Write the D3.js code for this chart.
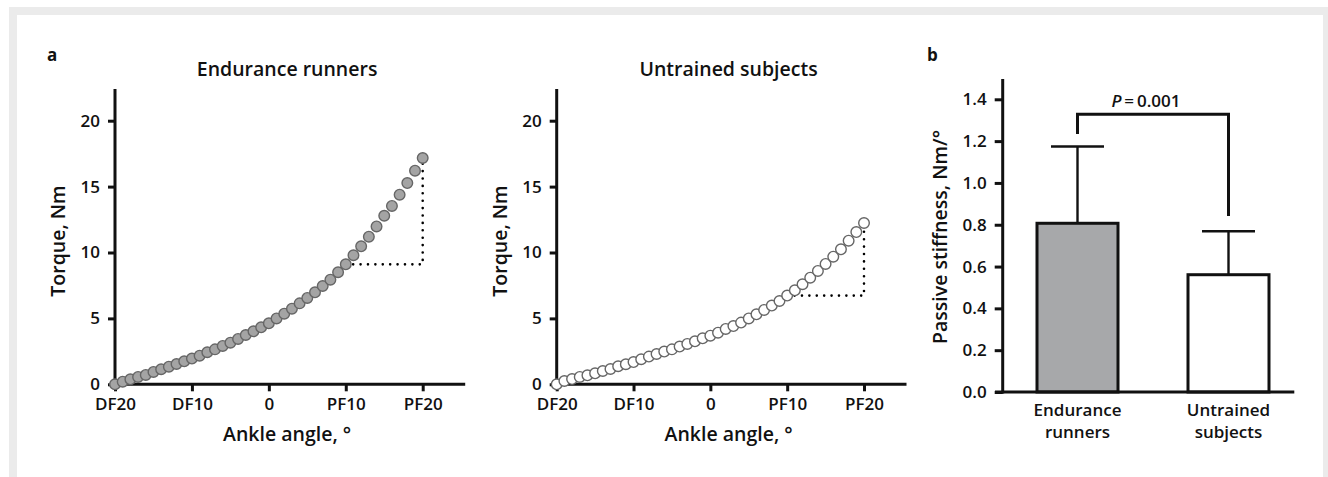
<!DOCTYPE html>
<html>
<head>
<meta charset="utf-8">
<script src="https://cdn.jsdelivr.net/npm/d3@7"></script>
<style>
  html, body { margin: 0; padding: 0; background: #fff; }
  svg { display: block; }
  text { font-family: 'Open Sans', 'Noto Sans', sans-serif; font-weight: 600; fill: #111; }
</style>
</head>
<body>
<script>
const width = 1328
const height = 477

// panel a: ankle angle (deg, negative = dorsiflexion) vs passive torque (Nm)
const angles = [-20, -19, -18, -17, -16, -15, -14, -13, -12, -11, -10, -9, -8, -7, -6, -5, -4, -3, -2, -1,
  0, 1, 2, 3, 4, 5, 6, 7, 8, 9, 10, 11, 12, 13, 14, 15, 16, 17, 18, 19, 20]
const runnersTorque = [0, 0.2, 0.38, 0.56, 0.71, 0.94, 1.14, 1.34, 1.54, 1.74, 1.95, 2.17, 2.43, 2.65, 2.91,
  3.16, 3.44, 3.74, 4.02, 4.32, 4.63, 5.0, 5.36, 5.74, 6.14, 6.55, 6.98, 7.46, 7.94, 8.5, 9.1, 9.79, 10.47,
  11.2, 11.98, 12.79, 13.53, 14.39, 15.27, 16.21, 17.17]
const untrainedTorque = [0, 0.25, 0.4, 0.56, 0.68, 0.83, 1.01, 1.16, 1.37, 1.52, 1.69, 1.9, 2.1, 2.3, 2.48,
  2.65, 2.86, 3.06, 3.26, 3.49, 3.69, 3.92, 4.2, 4.42, 4.68, 5.0, 5.31, 5.64, 5.97, 6.32, 6.73, 7.13, 7.59,
  8.09, 8.6, 9.13, 9.68, 10.24, 10.9, 11.55, 12.24]
const angleTicks = [-20, -10, 0, 10, 20]
const angleTickLabels = ['DF20', 'DF10', '0', 'PF10', 'PF20']
const torqueTicks = [0, 5, 10, 15, 20]
const slopeFrom = 10
const slopeTo = 20

// panel b: passive stiffness
const groups = ['Endurance runners', 'Untrained subjects']
const stiffnessMean = [0.807, 0.561]
const stiffnessSD = [0.367, 0.208]
const stiffnessTicks = [0, 0.2, 0.4, 0.6, 0.8, 1.0, 1.2, 1.4]
const bracketTop = 1.329
const bracketLegs = [1.234, 0.842]
const pLabel = ['P', '\u2009=\u20090.001']

const svg = d3.select('body').append('svg')
  .attr('width', width)
  .attr('height', height)

// page frame
svg.append('rect').attr('x', 9).attr('y', 7).attr('width', width).attr('height', height).attr('fill', '#ebebeb')
svg.append('rect').attr('x', 17).attr('y', 15).attr('width', 1306).attr('height', height).attr('fill', '#fff')

const yTorque = d3.scaleLinear().domain([0, 20]).range([384.3, 120.7])
const axisColor = '#111'
const tickFont = '17px'

function curvePanel(x0, x1, torque, fill, title, labelX) {
  const x = d3.scaleLinear().domain([-20, 20]).range([x0, x1])
  const g = svg.append('g')
  const axisEnd = x1 + 42.5
  const mid = (x0 + axisEnd) / 2 - 3

  // y axis
  const yAxis = d3.axisLeft(yTorque).tickValues(torqueTicks).tickSize(7).tickPadding(8).tickSizeOuter(0)
  const ya = g.append('g').attr('transform', `translate(${x0},0)`).call(yAxis)
  ya.select('.domain').remove()
  ya.append('line').attr('x1', 0).attr('x2', 0).attr('y1', 89).attr('y2', 385.8)
    .attr('stroke', axisColor).attr('stroke-width', 3)

  // x axis
  const xAxis = d3.axisBottom(x).tickValues(angleTicks)
    .tickFormat((d, i) => angleTickLabels[i]).tickSize(7).tickPadding(7).tickSizeOuter(0)
  const xa = g.append('g').attr('transform', `translate(0,${yTorque(0)})`).call(xAxis)
  xa.select('.domain').remove()
  xa.append('line').attr('x1', x0 - 1.5).attr('x2', axisEnd).attr('y1', 0).attr('y2', 0)
    .attr('stroke', axisColor).attr('stroke-width', 3)

  g.selectAll('.tick line').attr('stroke', axisColor).attr('stroke-width', 3)
  g.selectAll('.tick text').style('font-size', tickFont).style('font-family', "'Open Sans', sans-serif")
    .attr('fill', '#111')

  // slope triangle
  const iFrom = angles.indexOf(slopeFrom)
  const iTo = angles.indexOf(slopeTo)
  g.append('path')
    .attr('d', `M${x(slopeFrom)},${yTorque(torque[iFrom])}H${x(slopeTo)}V${yTorque(torque[iTo])}`)
    .attr('fill', 'none').attr('stroke', '#000').attr('stroke-width', 2.6)
    .attr('stroke-linecap', 'round').attr('stroke-dasharray', '0 7.4')

  g.selectAll('circle.pt').data(angles).enter().append('circle')
    .attr('class', 'pt')
    .attr('cx', d => x(d))
    .attr('cy', (d, i) => yTorque(torque[i]))
    .attr('r', 5.3)
    .attr('fill', fill)
    .attr('stroke', '#666')
    .attr('stroke-width', 1.4)

  g.append('text').attr('x', mid).attr('y', 76).attr('text-anchor', 'middle')
    .style('font-size', '19.5px').text(title)
  g.append('text').attr('x', mid).attr('y', 441).attr('text-anchor', 'middle')
    .style('font-size', '19.5px').text('Ankle angle, °')
  g.append('text').attr('transform', `translate(${labelX},241) rotate(-90)`).attr('dy', '0.35em')
    .attr('text-anchor', 'middle').style('font-size', '19.5px').text('Torque, Nm')
}

curvePanel(115, 422.7, runnersTorque, '#a4a4a4', 'Endurance runners', 58)
curvePanel(556.7, 864, untrainedTorque, '#fff', 'Untrained subjects', 500)

svg.append('text').attr('x', 47).attr('y', 61).style('font-size', '17px').style('font-weight', 700).text('a')
svg.append('text').attr('x', 927).attr('y', 61).style('font-size', '17px').style('font-weight', 700).text('b')

// panel b
const yStiff = d3.scaleLinear().domain([0, 1.4]).range([392, 99.3])
const xGroup = d3.scaleBand().domain(groups).range([1002, 1304]).paddingInner(0.4636).paddingOuter(0.2318)
const gb = svg.append('g')

const yAxisB = d3.axisLeft(yStiff).tickValues(stiffnessTicks).tickFormat(d3.format('.1f'))
  .tickSize(8).tickPadding(8).tickSizeOuter(0)
const yb = gb.append('g').attr('transform', 'translate(1002.7,0)').call(yAxisB)
yb.select('.domain').remove()
yb.append('line').attr('x1', 0).attr('x2', 0).attr('y1', 79).attr('y2', 393.5)
  .attr('stroke', axisColor).attr('stroke-width', 3)
yb.selectAll('.tick line').attr('stroke', axisColor).attr('stroke-width', 3)
yb.selectAll('.tick text').style('font-size', tickFont).style('font-family', "'Open Sans', sans-serif")
  .attr('fill', '#111')

const barG = gb.selectAll('g.bar').data(groups).enter().append('g').attr('class', 'bar')
// error bars first so bar outline sits on top
barG.append('line')
  .attr('x1', d => xGroup(d) + xGroup.bandwidth() / 2)
  .attr('x2', d => xGroup(d) + xGroup.bandwidth() / 2)
  .attr('y1', (d, i) => yStiff(stiffnessMean[i]))
  .attr('y2', (d, i) => yStiff(stiffnessMean[i] + stiffnessSD[i]))
  .attr('stroke', axisColor).attr('stroke-width', 2.4)
barG.append('line')
  .attr('x1', d => xGroup(d) + xGroup.bandwidth() / 2 - 26.5)
  .attr('x2', d => xGroup(d) + xGroup.bandwidth() / 2 + 26.5)
  .attr('y1', (d, i) => yStiff(stiffnessMean[i] + stiffnessSD[i]))
  .attr('y2', (d, i) => yStiff(stiffnessMean[i] + stiffnessSD[i]))
  .attr('stroke', axisColor).attr('stroke-width', 2.6)
barG.append('rect')
  .attr('x', d => xGroup(d))
  .attr('width', xGroup.bandwidth())
  .attr('y', (d, i) => yStiff(stiffnessMean[i]))
  .attr('height', (d, i) => yStiff(0) - yStiff(stiffnessMean[i]))
  .attr('fill', (d, i) => i === 0 ? '#a7a8aa' : '#fff')
  .attr('stroke', axisColor).attr('stroke-width', 3)

gb.append('line').attr('x1', 995).attr('x2', 1294.3).attr('y1', yStiff(0)).attr('y2', yStiff(0))
  .attr('stroke', axisColor).attr('stroke-width', 3)

barG.each(function (d) {
  const words = d.split(' ')
  const t = d3.select(this).append('text')
    .attr('text-anchor', 'middle').style('font-size', '17px')
  words.forEach((w, j) => {
    t.append('tspan').attr('x', xGroup(d) + xGroup.bandwidth() / 2).attr('y', 416 + j * 21.5).text(w)
  })
})

// significance bracket
const cx0 = xGroup(groups[0]) + xGroup.bandwidth() / 2
const cx1 = xGroup(groups[1]) + xGroup.bandwidth() / 2
gb.append('path')
  .attr('d', `M${cx0},${yStiff(bracketLegs[0])}V${yStiff(bracketTop)}H${cx1}V${yStiff(bracketLegs[1])}`)
  .attr('fill', 'none').attr('stroke', axisColor).attr('stroke-width', 3)
const pt = gb.append('text').attr('x', (cx0 + cx1) / 2 - 7).attr('y', 106.5)
  .attr('text-anchor', 'middle').style('font-size', '17px')
pt.append('tspan').style('font-style', 'italic').text(pLabel[0])
pt.append('tspan').text(pLabel[1])

gb.append('text').attr('transform', 'translate(940,237) rotate(-90)').attr('dy', '0.35em')
  .attr('text-anchor', 'middle').style('font-size', '19.5px').text('Passive stiffness, Nm/°')
</script>
</body>
</html>
